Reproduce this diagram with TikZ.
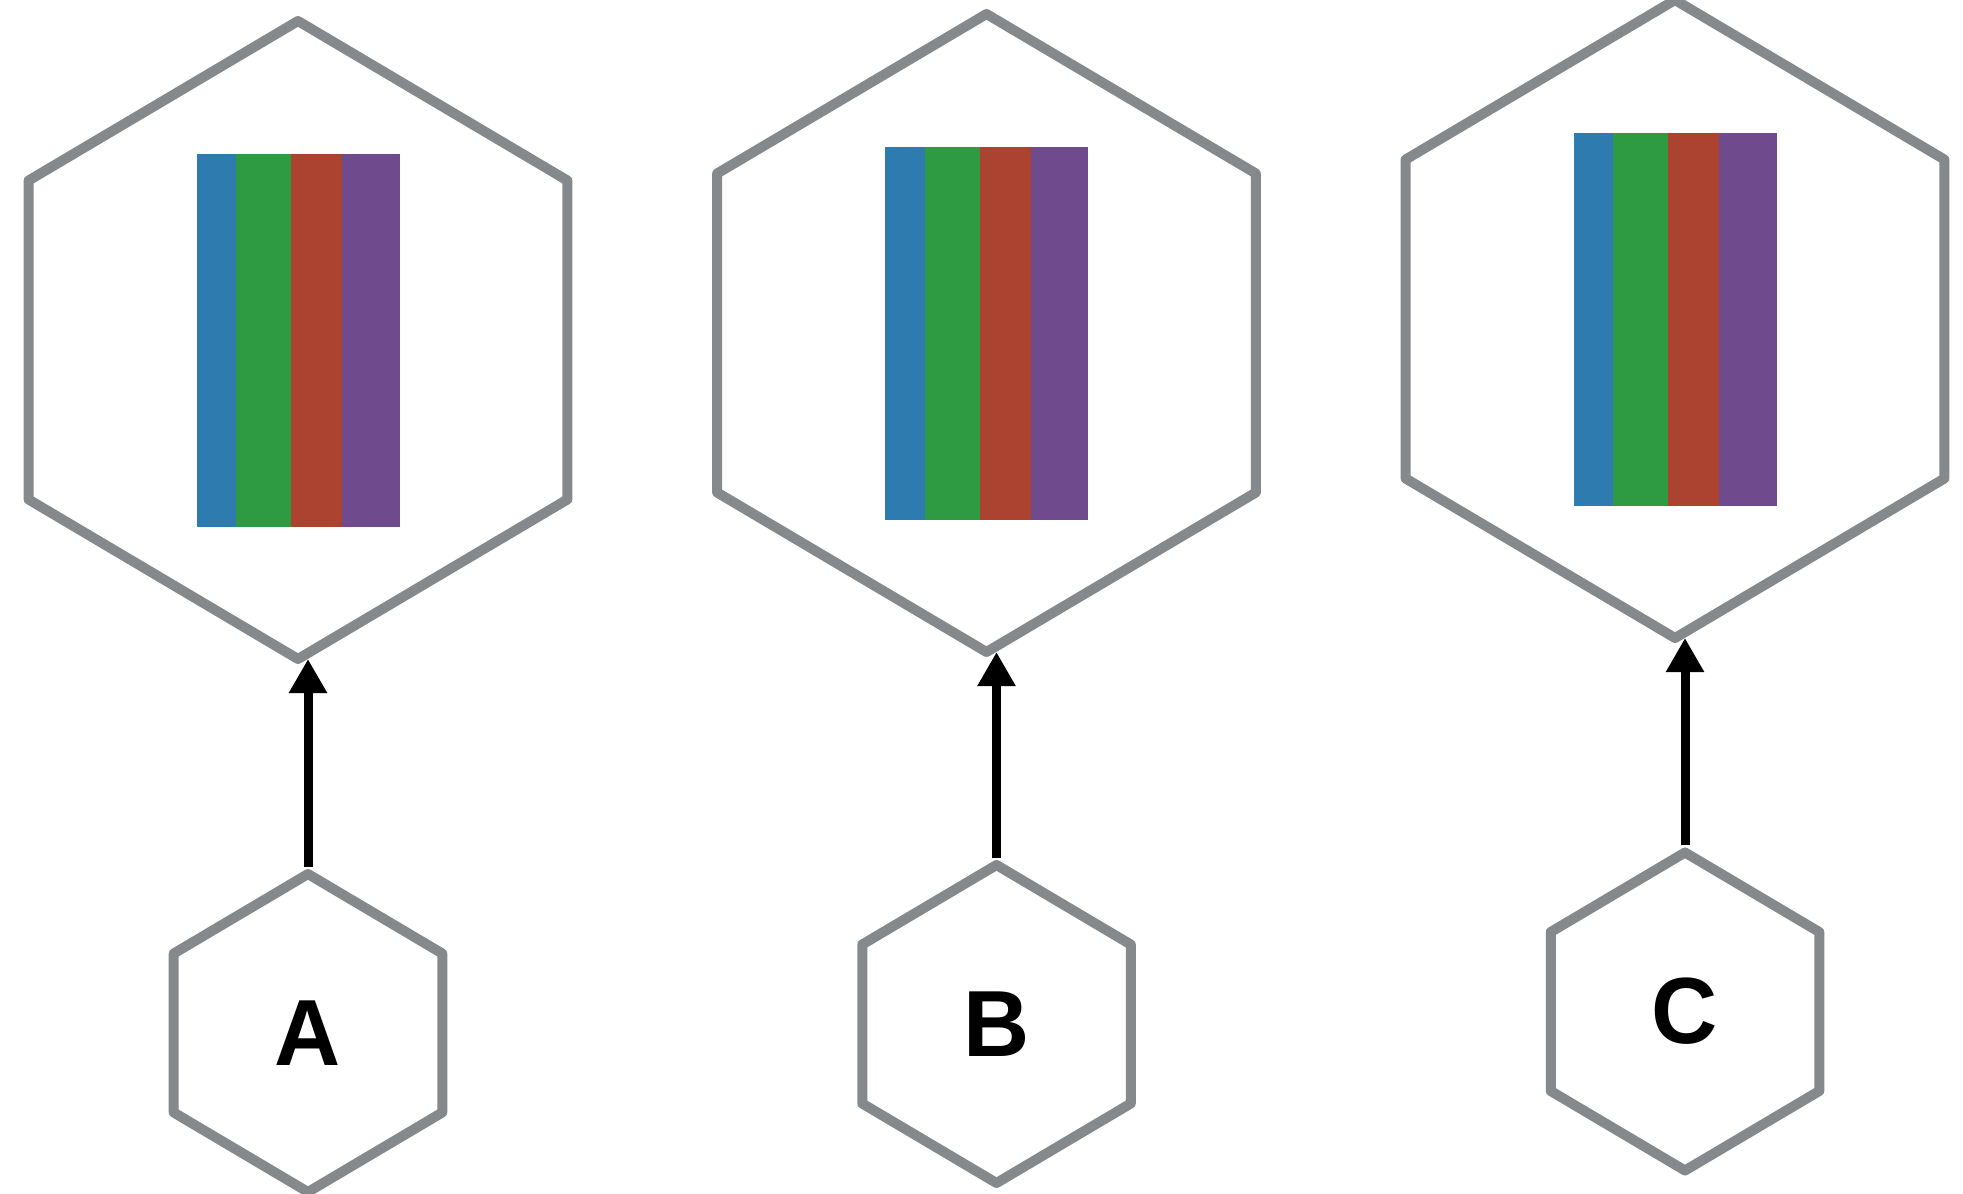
\documentclass[tikz,border=0pt]{standalone}
\usepackage{fontspec}
\setmainfont{Liberation Sans}
\usetikzlibrary{shapes.geometric,arrows.meta}
\definecolor{hexgray}{HTML}{86898C}
\definecolor{sblue}{HTML}{2E7BAF}
\definecolor{sgreen}{HTML}{2E9A42}
\definecolor{sred}{HTML}{AC4331}
\definecolor{spurple}{HTML}{6F4A8D}
\tikzset{
  hexshape/.style={regular polygon, regular polygon sides=6, shape border rotate=30,
    draw=hexgray, line width=10pt, line join=round, inner sep=0pt, outer sep=0pt,
    transform shape, xscale=0.975},
  bighex/.style={hexshape, minimum size=638pt},
  smallhex/.style={hexshape, minimum size=318pt, font=\fontsize{94}{94}\selectfont\bfseries},
  arr/.style={line width=9pt, -{Triangle[width=36pt,length=34pt]}, shorten <=7pt}
}
\begin{document}
\begin{tikzpicture}[x=1pt,y=-1pt]
\useasboundingbox (0,0) rectangle (1963,1194);
\node[bighex] (bA) at (298,340) {};
\node[bighex] (bB) at (986.5,333) {};
\node[bighex] (bC) at (1675,319) {};
\node[smallhex] (sA) at (308,1033) {A};
\node[smallhex] (sB) at (996.5,1024) {B};
\node[smallhex] (sC) at (1685,1011.5) {C};
\foreach \n in {bA,bB,bC} {
  \fill[sblue]   ([shift={(-101.5,-186.5)}]\n.center) rectangle ++(39.9,373);
  \fill[sgreen]  ([shift={(-61.6,-186.5)}]\n.center) rectangle ++(54.8,373);
  \fill[sred]    ([shift={(-6.8,-186.5)}]\n.center) rectangle ++(51.1,373);
  \fill[spurple] ([shift={(44.3,-186.5)}]\n.center) rectangle ++(57.2,373);
}
\draw[arr] (sA.90) -- (sA.90 |- bA.270);
\draw[arr] (sB.90) -- (sB.90 |- bB.270);
\draw[arr] (sC.90) -- (sC.90 |- bC.270);
\end{tikzpicture}
\end{document}
